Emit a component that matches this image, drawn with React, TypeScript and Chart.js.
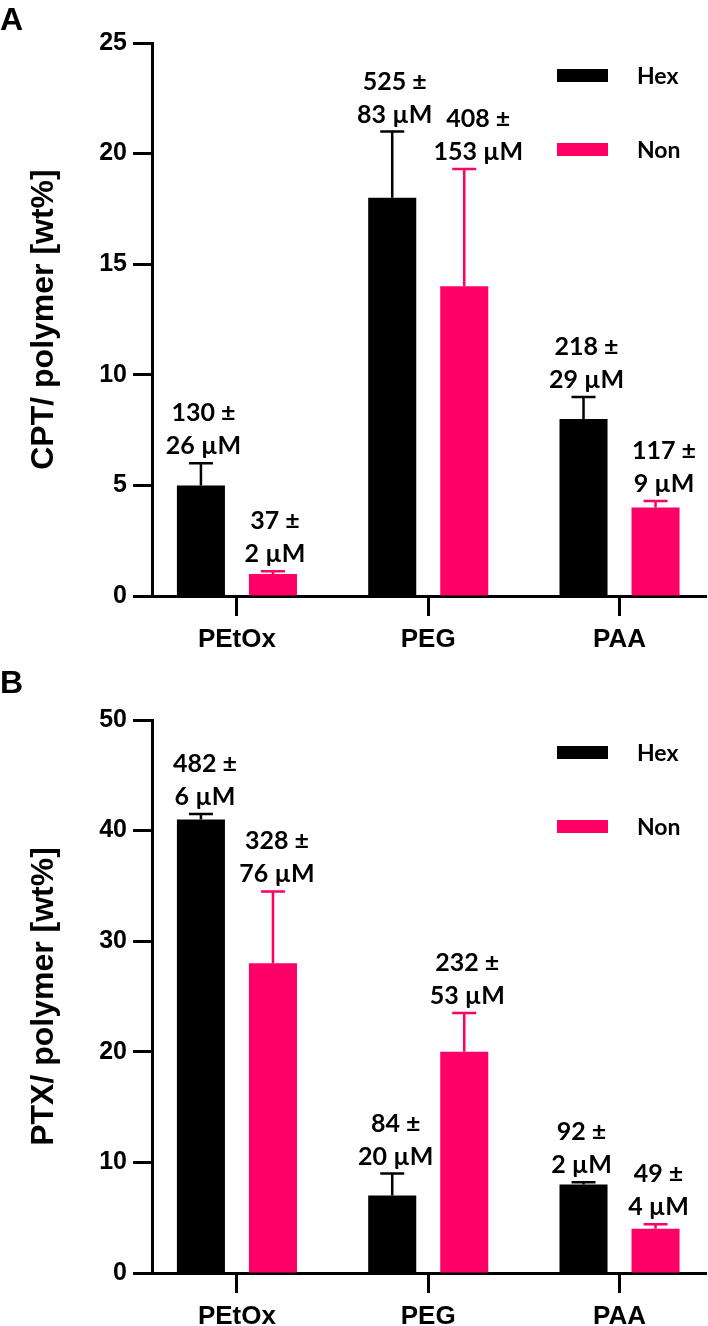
import React, { useEffect, useRef } from "react";
import { Chart, registerables } from "chart.js";

Chart.register(...registerables);

// ---------- data ----------
const categories = ["PEtOx", "PEG", "PAA"];
const seriesNames = ["Hex", "Non"];

// Panel A: CPT loading (wt%)
const cptHex = [5, 18, 8];
const cptHexSd = [1, 3, 1];
const cptNon = [1, 14, 4];
const cptNonSd = [0.12, 5.3, 0.3];
// solubilized concentration (µM): mean ± sd
const cptHexConc = [130, 525, 218];
const cptHexConcSd = [26, 83, 29];
const cptNonConc = [37, 408, 117];
const cptNonConcSd = [2, 153, 9];

// Panel B: PTX loading (wt%)
const ptxHex = [41, 7, 8];
const ptxHexSd = [0.5, 2, 0.2];
const ptxNon = [28, 20, 4];
const ptxNonSd = [6.5, 3.5, 0.4];
const ptxHexConc = [482, 84, 92];
const ptxHexConcSd = [6, 20, 2];
const ptxNonConc = [328, 232, 49];
const ptxNonConcSd = [76, 53, 4];

// ---------- style ----------
const COLORS = ["#000000", "#FF0066"];
const AXIS_FONT = '"Liberation Sans", Arial, sans-serif';
const LABEL_FONT = 'Lato, "Open Sans", sans-serif';
const W = 708;
const H = 663;

type PanelCfg = {
  letter: string;
  top: number;
  yTitle: string;
  yMax: number;
  step: number;
  padTop: number;
  xAxisH: number;
  values: number[][];
  sds: number[][];
  conc: number[][];
  concSd: number[][];
  labelDx: number[][];
};

const panelA: PanelCfg = {
  letter: "A",
  top: 0,
  yTitle: "CPT/ polymer [wt%]",
  yMax: 25,
  step: 5,
  padTop: 43,
  xAxisH: 67,
  values: [cptHex, cptNon],
  sds: [cptHexSd, cptNonSd],
  conc: [cptHexConc, cptNonConc],
  concSd: [cptHexConcSd, cptNonConcSd],
  labelDx: [
    [2.5, 2.5, 3],
    [2, 14, 8.5],
  ],
};

const panelB: PanelCfg = {
  letter: "B",
  top: 663,
  yTitle: "PTX/ polymer [wt%]",
  yMax: 50,
  step: 10,
  padTop: 57,
  xAxisH: 53,
  values: [ptxHex, ptxNon],
  sds: [ptxHexSd, ptxNonSd],
  conc: [ptxHexConc, ptxNonConc],
  concSd: [ptxHexConcSd, ptxNonConcSd],
  labelDx: [
    [4, 3.5, -2],
    [4, 3, 3],
  ],
};

function makeOverlay(cfg: PanelCfg) {
  return {
    id: "overlay" + cfg.letter,
    afterDatasetsDraw(chart: any) {
      const { ctx, chartArea } = chart;
      const y = chart.scales.y;
      ctx.save();
      chart.data.datasets.forEach((ds: any, di: number) => {
        const meta = chart.getDatasetMeta(di);
        meta.data.forEach((bar: any, i: number) => {
          const v = cfg.values[di][i];
          const sd = cfg.sds[di][i];
          const yBar = y.getPixelForValue(v);
          const yTop = y.getPixelForValue(v + sd);
          ctx.strokeStyle = COLORS[di];
          ctx.lineWidth = 2.5;
          ctx.beginPath();
          ctx.moveTo(bar.x, yBar);
          ctx.lineTo(bar.x, yTop);
          ctx.moveTo(bar.x - 12, yTop);
          ctx.lineTo(bar.x + 12, yTop);
          ctx.stroke();

          ctx.fillStyle = "#000";
          ctx.font = `bold 25px ${LABEL_FONT}`;
          ctx.textAlign = "center";
          ctx.textBaseline = "middle";
          const lx = bar.x + cfg.labelDx[di][i];
          ctx.fillText(`${cfg.conc[di][i]} ±`, lx, yTop - 17 - 33);
          ctx.fillText(`${cfg.concSd[di][i]} µM`, lx, yTop - 17);
        });
      });

      // legend
      const legOffsets = [26, 100];
      chart.data.datasets.forEach((ds: any, di: number) => {
        const ry = chartArea.top + legOffsets[di];
        ctx.fillStyle = COLORS[di];
        ctx.fillRect(557, ry, 51, 13);
        ctx.fillStyle = "#000";
        ctx.font = `bold 23px ${LABEL_FONT}`;
        ctx.textAlign = "left";
        ctx.textBaseline = "middle";
        ctx.fillText(ds.label, 637, ry + 7.5);
      });

      // panel letter
      ctx.fillStyle = "#000";
      ctx.font = `bold 32px ${AXIS_FONT}`;
      ctx.textAlign = "left";
      ctx.textBaseline = "alphabetic";
      ctx.fillText(cfg.letter, 0, 30);
      ctx.restore();
    },
  };
}

function Panel({ cfg }: { cfg: PanelCfg }) {
  const ref = useRef<HTMLCanvasElement>(null);
  useEffect(() => {
    const canvas = ref.current;
    if (!canvas) return;
    const tickFont = { family: AXIS_FONT, size: 25, weight: "bold" as const };
    const chart = new Chart(canvas, {
      type: "bar",
      data: {
        datasets: seriesNames.map((name, di) => ({
          label: name,
          data: categories.map((_, i) => ({ x: i, y: cfg.values[di][i] })),
          backgroundColor: COLORS[di],
          borderWidth: 0,
          categoryPercentage: 0.753,
          barPercentage: 0.667,
        })),
      },
      options: {
        animation: false,
        responsive: false,
        devicePixelRatio: 1,
        layout: { padding: { top: cfg.padTop, right: 2, left: 0, bottom: 0 } },
        plugins: {
          legend: { display: false },
          tooltip: { enabled: false },
        },
        scales: {
          x: {
            type: "linear",
            offset: false,
            min: -0.444,
            max: 2.452,
            afterBuildTicks: (s: any) => {
              s.ticks = categories.map((_, i) => ({ value: i }));
            },
            afterFit: (s: any) => {
              s.height = cfg.xAxisH;
            },
            ticks: {
              callback: (v: any) => categories[v as number] ?? "",
              font: { family: AXIS_FONT, size: 26, weight: "bold" },
              color: "#000",
              padding: 8,
              maxRotation: 0,
              autoSkip: false,
            },
            grid: {
              display: true,
              offset: false,
              drawOnChartArea: false,
              drawTicks: true,
              tickLength: 20,
              tickWidth: 3,
              tickColor: "#000",
            },
            border: { display: true, width: 3, color: "#000" },
          },
          y: {
            min: 0,
            max: cfg.yMax,
            afterFit: (s: any) => {
              s.width = 152;
            },
            ticks: {
              stepSize: cfg.step,
              font: tickFont,
              color: "#000",
              padding: 6,
            },
            grid: {
              display: true,
              drawOnChartArea: false,
              drawTicks: true,
              tickLength: 19,
              tickWidth: 3,
              tickColor: "#000",
            },
            border: { display: true, width: 3, color: "#000" },
            title: {
              display: true,
              text: cfg.yTitle,
              font: { family: AXIS_FONT, size: 32, weight: "bold" },
              color: "#000",
              padding: { top: 25, bottom: 0 },
            },
          },
        },
      } as any,
      plugins: [makeOverlay(cfg)],
    });
    return () => chart.destroy();
  }, [cfg]);
  return (
    <canvas
      ref={ref}
      width={W}
      height={H}
      style={{ position: "absolute", left: 0, top: cfg.top, width: W, height: H }}
    />
  );
}

export default function App() {
  return (
    <div
      style={{
        position: "absolute",
        left: 0,
        top: 0,
        width: 708,
        height: 1326,
        background: "#fff",
        overflow: "hidden",
      }}
    >
      <Panel cfg={panelA} />
      <Panel cfg={panelB} />
    </div>
  );
}
